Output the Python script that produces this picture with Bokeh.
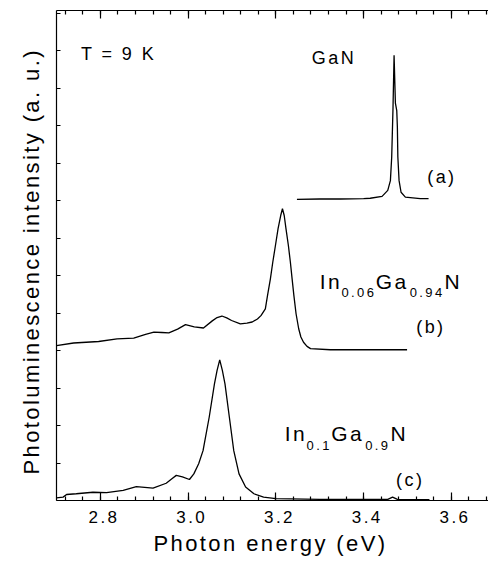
from bokeh.plotting import figure
from bokeh.models import (Range1d, LinearAxis, SingleIntervalTicker, FixedTicker,
                          NumeralTickFormatter, Label, Title, InlineStyleSheet)
from bokeh.embed import file_html
from bokeh.resources import INLINE

# ---------------- data ----------------
x_tick_interval = 0.2
y_ticks = list(range(0, 14))

gan_energy = [3.248, 3.300, 3.347, 3.400, 3.415, 3.442, 3.455, 3.461, 3.464, 3.467,
              3.4694, 3.4724, 3.4755, 3.4769, 3.478, 3.4808, 3.4853, 3.4951, 3.529, 3.548]
gan_intensity = [8.03, 8.04, 8.04, 8.05, 8.06, 8.11, 8.27, 8.53, 9.16, 10.49,
                 11.87, 10.60, 10.40, 9.96, 9.16, 8.53, 8.22, 8.09, 8.05, 8.05]

in006_energy = [2.700, 2.739, 2.796, 2.838, 2.876, 2.903, 2.922, 2.940, 2.956, 2.976,
                2.994, 3.014, 3.035, 3.055, 3.066, 3.077, 3.088, 3.099, 3.119, 3.134,
                3.146, 3.158, 3.166, 3.176, 3.181, 3.1875, 3.193, 3.199, 3.205, 3.211,
                3.215, 3.219, 3.223, 3.2285, 3.233, 3.237, 3.241, 3.246, 3.252, 3.257,
                3.263, 3.271, 3.279, 3.324, 3.499]
in006_intensity = [4.13, 4.20, 4.24, 4.31, 4.33, 4.43, 4.49, 4.48, 4.47, 4.57,
                   4.69, 4.63, 4.60, 4.79, 4.88, 4.92, 4.87, 4.80, 4.71, 4.73,
                   4.76, 4.84, 4.93, 5.11, 5.47, 5.91, 6.36, 6.80, 7.25, 7.60,
                   7.78, 7.60, 7.25, 6.80, 6.36, 5.91, 5.47, 4.98, 4.58, 4.36,
                   4.22, 4.11, 4.05, 4.02, 4.02]

in01_energy = [2.700, 2.715, 2.723, 2.745, 2.783, 2.814, 2.852, 2.882, 2.920, 2.950,
               2.963, 2.973, 2.987, 3.003, 3.013, 3.024, 3.034, 3.048, 3.060, 3.066,
               3.072, 3.078, 3.084, 3.094, 3.104, 3.116, 3.131, 3.150, 3.172, 3.200,
               3.300, 3.400, 3.455, 3.466, 3.477, 3.550]
in01_intensity = [0.07, 0.09, 0.16, 0.18, 0.22, 0.21, 0.27, 0.37, 0.33, 0.46,
                  0.58, 0.67, 0.63, 0.56, 0.71, 0.98, 1.33, 2.22, 3.11, 3.47,
                  3.75, 3.47, 3.11, 2.22, 1.33, 0.71, 0.36, 0.18, 0.09, 0.05,
                  0.03, 0.03, 0.03, 0.09, 0.03, 0.02]

FONT = "Liberation Sans"

p = figure(frame_width=432, frame_height=490,
           x_range=Range1d(2.7, 3.6846), y_range=Range1d(0, 13.067),
           x_axis_type=None, y_axis_type=None,
           output_backend="svg", toolbar_location=None,
           min_border_left=56, min_border_right=0, min_border_top=10, min_border_bottom=62)
p.outline_line_color = None
p.background_fill_color = "white"
p.border_fill_color = "white"
p.stylesheets = [InlineStyleSheet(css=":host { letter-spacing: 2.4px; }")]

common = dict(axis_line_color="black", axis_line_width=1.2,
              major_tick_line_color="black", minor_tick_line_color="black",
              major_tick_line_width=1.2, minor_tick_line_width=1.2,
              major_tick_out=0, minor_tick_out=0)

xb = LinearAxis(ticker=SingleIntervalTicker(interval=x_tick_interval, num_minor_ticks=5),
                formatter=NumeralTickFormatter(format="0.0"),
                major_tick_in=8, minor_tick_in=4,
                major_label_standoff=10,
                major_label_text_font=FONT, major_label_text_font_size="17px",
                major_label_text_color="black",
                **common)
p.add_layout(xb, "below")

xt = LinearAxis(ticker=SingleIntervalTicker(interval=x_tick_interval, num_minor_ticks=5),
                major_tick_in=8, minor_tick_in=4,
                major_label_standoff=0, major_label_text_font_size="1px",
                major_label_text_color=None,
                **common)
p.add_layout(xt, "above")

yl = LinearAxis(ticker=FixedTicker(ticks=y_ticks, minor_ticks=[]),
                major_tick_in=4, minor_tick_in=0,
                major_label_standoff=0, major_label_text_font_size="1px",
                major_label_text_color=None,
                **common)
p.add_layout(yl, "left")

# axis titles (left-anchored so that letter spacing keeps their start fixed)
p.add_layout(Title(text="Photon energy (eV)", align="left", offset=97, standoff=7,
                   text_font=FONT, text_font_size="22px", text_font_style="normal",
                   text_color="black"), "below")
p.add_layout(Title(text="Photoluminescence intensity (a. u.)", align="left", offset=26,
                   standoff=26, text_font=FONT, text_font_size="22px",
                   text_font_style="normal", text_color="black"), "left")

for xs, ys in [(gan_energy, gan_intensity), (in006_energy, in006_intensity),
               (in01_energy, in01_intensity)]:
    p.line(xs, ys, line_color="black", line_width=1.3)


def lab(x, y, t, size):
    p.add_layout(Label(x=x, y=y, text=t, text_font=FONT, text_font_size=size,
                       text_color="black", text_align="left", text_baseline="alphabetic"))


lab(2.756, 11.92, "T = 9 K", "18px")
lab(3.282, 11.79, "GaN", "18px")
lab(3.545, 8.64, "(a)", "18px")

lab(3.300, 5.84, "In", "21px")
lab(3.3495, 5.555, "0.06", "13px")
lab(3.4275, 5.84, "Ga", "21px")
lab(3.5050, 5.555, "0.94", "13px")
lab(3.5845, 5.84, "N", "21px")
lab(3.520, 4.627, "(b)", "18px")

lab(3.2205, 1.795, "In", "21px")
lab(3.2700, 1.467, "0.1", "13px")
lab(3.3260, 1.795, "Ga", "21px")
lab(3.4035, 1.467, "0.9", "13px")
lab(3.4615, 1.795, "N", "21px")
lab(3.474, 0.547, "(c)", "18px")

open("out.html", "w").write(file_html(p, INLINE))
